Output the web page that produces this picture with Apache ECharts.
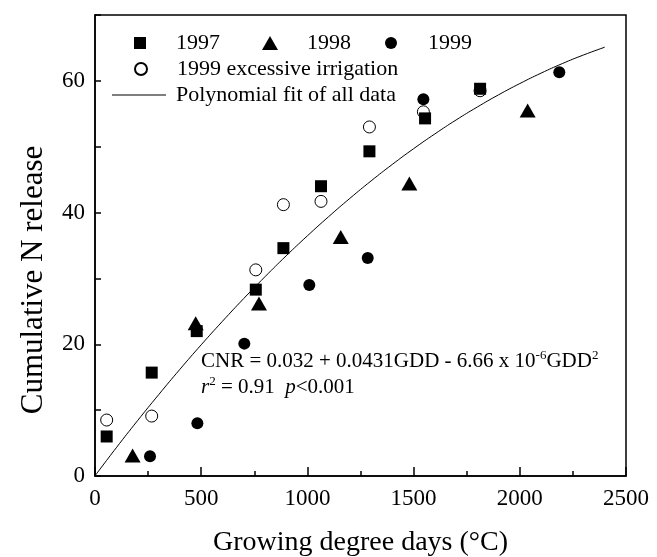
<!DOCTYPE html>
<html>
<head>
<meta charset="utf-8">
<script src="https://cdn.jsdelivr.net/npm/echarts@6/dist/echarts.min.js"></script>
<style>
  html, body { margin: 0; padding: 0; background: #fff; }
  #chart { width: 657px; height: 557px; }
</style>
</head>
<body>
<div id="chart"></div>
<script>
// GDD (x) and cumulative N release (y)
const gdd1997 = [55, 267, 479, 757, 887, 1064, 1292, 1554, 1813];
const cnr1997 = [6.0, 15.7, 22.0, 28.3, 34.6, 44.0, 49.3, 54.3, 58.8];

const gdd1998 = [177, 474, 772, 1157, 1480, 2037];
const cnr1998 = [3.1, 23.2, 26.2, 36.3, 44.4, 55.5];

const gdd1999 = [259, 482, 703, 1009, 1284, 1546, 2186];
const cnr1999 = [3.0, 8.0, 20.1, 29.0, 33.1, 57.2, 61.3];

const gddExcess = [55, 267, 757, 887, 1064, 1292, 1546, 1813];
const cnrExcess = [8.5, 9.1, 31.3, 41.2, 41.7, 53.0, 55.3, 58.5];

// fitted curve as drawn
const fitGdd = [0, 100, 200, 300, 400, 500, 600, 700, 800, 900, 1000, 1100, 1200,
  1300, 1400, 1500, 1600, 1700, 1800, 1900, 2000, 2100, 2200, 2300, 2400];
const fitCnr = [0.03, 4.28, 8.39, 12.36, 16.21, 19.92, 23.49, 26.94, 30.25, 33.43, 36.47,
  39.38, 42.16, 44.81, 47.32, 49.70, 51.94, 54.06, 56.03, 57.88, 59.59, 61.17, 62.62,
  63.93, 65.11];

const xTicks = [0, 500, 1000, 1500, 2000, 2500];
const yLabelled = [0, 20, 40, 60];

const FONT = '"Liberation Serif", "Times New Roman", serif';

function zip(xs, ys) {
  return xs.map((x, i) => [x, ys[i]]);
}

const chart = echarts.init(document.getElementById('chart'), null, { renderer: 'canvas' });

const legendText = { fontFamily: FONT, fontSize: 22, color: '#000', lineHeight: 24 };

function oneLegend(name, left, top, w, h, padLeft, icon) {
  const item = icon ? { name: name, icon: icon } : name;
  return {
    data: [item], left: left, top: top, padding: 0,
    itemWidth: w, itemHeight: h, itemGap: 0,
    selectedMode: false,
    itemStyle: { opacity: 1 },
    textStyle: Object.assign({}, legendText, { padding: [0, 0, 0, padLeft] })
  };
}

const option = {
  animation: false,
  backgroundColor: '#fff',
  grid: {
    left: 95, right: 31, top: 15, bottom: 81,
    outerBoundsMode: 'none', containLabel: false,
    show: true, borderColor: '#000', borderWidth: 1.5, backgroundColor: 'transparent'
  },
  legend: [
    oneLegend('1997', 134, 31, 12, 12, 25),
    oneLegend('1998', 262, 31, 16, 14, 24),
    oneLegend('1999', 385, 31, 12, 12, 26),
    oneLegend('1999 excessive irrigation', 134, 57, 12, 12, 25),
    oneLegend('Polynomial fit of all data', 112, 83, 54, 14, 5, 'path://M0,0 H54 V1.2 H0 Z')
  ],
  xAxis: {
    type: 'value', min: 0, max: 2500, interval: 500,
    name: 'Growing degree days (°C)', nameLocation: 'middle', nameGap: 53,
    nameTextStyle: { fontFamily: FONT, fontSize: 28, color: '#000' },
    axisLine: { onZero: false, lineStyle: { color: '#000', width: 1.5 } },
    axisTick: { inside: true, length: 9, lineStyle: { color: '#000', width: 1.5 } },
    minorTick: { show: true, splitNumber: 2, length: 5, lineStyle: { color: '#000', width: 1.5 } },
    axisLabel: {
      fontFamily: FONT, fontSize: 23, color: '#000', margin: 11,
      formatter: v => (xTicks.indexOf(v) >= 0 ? String(v) : '')
    },
    splitLine: { show: false }
  },
  yAxis: {
    type: 'value', min: 0, max: 70, interval: 10,
    name: 'Cumulative N release', nameLocation: 'middle', nameGap: 46,
    nameTextStyle: { fontFamily: FONT, fontSize: 31, color: '#000', padding: [0, 69, 0, 0] },
    axisLine: { onZero: false, lineStyle: { color: '#000', width: 1.5 } },
    axisTick: { inside: true, length: 6, lineStyle: { color: '#000', width: 1.5 } },
    axisLabel: {
      fontFamily: FONT, fontSize: 23, color: '#000', margin: 10,
      formatter: v => (yLabelled.indexOf(v) >= 0 ? String(v) : '')
    },
    splitLine: { show: false }
  },
  series: [
    {
      name: 'Polynomial fit of all data', type: 'line', data: zip(fitGdd, fitCnr),
      showSymbol: false, symbol: 'none', smooth: true,
      lineStyle: { color: '#000', width: 1 }, itemStyle: { color: '#000' }, z: 1
    },
    {
      name: '1997', type: 'scatter', data: zip(gdd1997, cnr1997),
      symbol: 'rect', symbolSize: 12, itemStyle: { color: '#000', opacity: 1 }, z: 3
    },
    {
      name: '1998', type: 'scatter', data: zip(gdd1998, cnr1998),
      symbol: 'triangle', symbolSize: [16, 14], itemStyle: { color: '#000', opacity: 1 }, z: 3
    },
    {
      name: '1999', type: 'scatter', data: zip(gdd1999, cnr1999),
      symbol: 'circle', symbolSize: 12, itemStyle: { color: '#000', opacity: 1 }, z: 3
    },
    {
      name: '1999 excessive irrigation', type: 'scatter', data: zip(gddExcess, cnrExcess),
      symbol: 'circle', symbolSize: 12,
      itemStyle: { color: '#fff', borderColor: '#000', borderWidth: 1, opacity: 1 }, z: 2
    }
  ],
  graphic: [
    {
      type: 'text', left: 201, top: 349, z: 10,
      style: {
        text: '{a|CNR = 0.032 + 0.0431GDD - 6.66 x 10}{s|-6}{a|GDD}{s|2}',
        rich: {
          a: { fontFamily: FONT, fontSize: 21, color: '#000', lineHeight: 24 },
          s: { fontFamily: FONT, fontSize: 13, color: '#000', lineHeight: 24, padding: [0, 0, 12, 0] }
        }
      }
    },
    {
      type: 'text', left: 201, top: 375, z: 10,
      style: {
        text: '{i|r}{s|2}{a| = 0.91  }{i|p}{a|<0.001}',
        rich: {
          a: { fontFamily: FONT, fontSize: 21, color: '#000', lineHeight: 24 },
          i: { fontFamily: FONT, fontSize: 21, fontStyle: 'italic', color: '#000', lineHeight: 24 },
          s: { fontFamily: FONT, fontSize: 13, color: '#000', lineHeight: 24, padding: [0, 0, 12, 0] }
        }
      }
    }
  ]
};

chart.setOption(option);
</script>
</body>
</html>
